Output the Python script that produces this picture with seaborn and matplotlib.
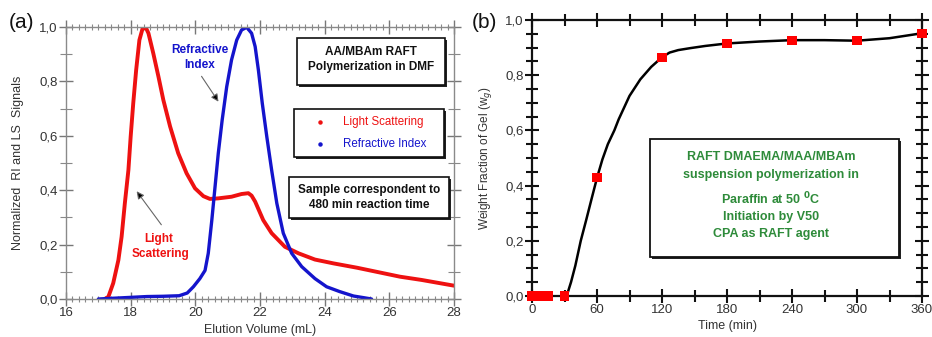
import matplotlib
matplotlib.use("Agg")
import matplotlib.pyplot as plt
import seaborn as sns
import pandas as pd
from matplotlib.ticker import MultipleLocator, FuncFormatter
from matplotlib.patches import Rectangle

# ---------------- data ----------------
ls_volume = [17.20, 17.31, 17.46, 17.62, 17.72, 17.82, 17.93, 18.00, 18.08, 18.17, 18.27, 18.37,
             18.42, 18.48, 18.55, 18.70, 18.86, 19.01, 19.22, 19.47, 19.73, 19.99, 20.25, 20.45,
             20.71, 21.12, 21.43, 21.64, 21.74, 21.85, 22.10, 22.36, 22.77, 23.19, 23.70, 24.27,
             25.00, 26.33, 27.00, 28.00]
ls_signal = [0.0, 0.008, 0.058, 0.143, 0.229, 0.352, 0.474, 0.597, 0.72, 0.842, 0.952, 0.995,
             1.0, 0.995, 0.977, 0.903, 0.817, 0.732, 0.634, 0.536, 0.462, 0.407, 0.378, 0.368,
             0.370, 0.376, 0.386, 0.389, 0.380, 0.358, 0.29, 0.242, 0.192, 0.168, 0.145, 0.131,
             0.115, 0.082, 0.07, 0.049]

ri_volume = [17.0, 17.5, 18.0, 18.5, 19.0, 19.5, 19.75, 19.94, 20.14, 20.30, 20.40, 20.51, 20.61,
             20.71, 20.83, 20.97, 21.12, 21.28, 21.43, 21.59, 21.74, 21.85, 21.95, 22.07, 22.21,
             22.36, 22.52, 22.72, 22.98, 23.29, 23.70, 24.06, 24.47, 24.89, 25.20, 25.45]
ri_signal = [0.0, 0.003, 0.006, 0.009, 0.010, 0.012, 0.022, 0.045, 0.075, 0.105, 0.168, 0.29, 0.413,
             0.536, 0.658, 0.78, 0.879, 0.952, 0.989, 0.999, 0.977, 0.928, 0.842, 0.72, 0.597,
             0.474, 0.352, 0.242, 0.168, 0.119, 0.075, 0.045, 0.027, 0.011, 0.005, 0.0]

gel_time = [0, 5, 10, 15, 30, 60, 120, 180, 240, 300, 360]
gel_frac = [0, 0, 0, 0, 0, 0.428, 0.865, 0.915, 0.927, 0.925, 0.952]

fit_time = [32, 36, 40, 45, 50, 55, 60, 65, 70, 76, 80, 90, 100, 110, 120, 127, 135, 146, 160,
            180, 210, 240, 270, 300, 330, 360]
fit_frac = [0.0, 0.05, 0.11, 0.20, 0.275, 0.352, 0.428, 0.495, 0.55, 0.60, 0.64, 0.725, 0.785,
            0.83, 0.865, 0.882, 0.891, 0.898, 0.906, 0.915, 0.922, 0.927, 0.927, 0.925, 0.934,
            0.952]

RED = "#ee1111"
BLUE = "#1414cc"
GREEN = "#2e8b3a"
W, H = 932, 337

sns.set_style("white")
plt.rcParams["font.family"] = ["Liberation Sans", "DejaVu Sans"]

fig = plt.figure(figsize=(W / 100, H / 100), dpi=100)


def fx(x):
    return x / W


def fy(y):
    return 1 - y / H


def axes_from_px(x0, y0, x1, y1):
    return fig.add_axes([fx(x0), fy(y1), fx(x1) - fx(x0), fy(y0) - fy(y1)])


comma = FuncFormatter(lambda v, p: f"{v:.1f}".replace(".", ","))

# ---------------- panel (a) ----------------
ax1 = axes_from_px(66, 27, 454, 299)
df_ls = pd.DataFrame({"v": ls_volume, "s": ls_signal})
df_ri = pd.DataFrame({"v": ri_volume, "s": ri_signal})
sns.lineplot(data=df_ls, x="v", y="s", ax=ax1, color=RED, lw=2.8, sort=False)
sns.lineplot(data=df_ri, x="v", y="s", ax=ax1, color=BLUE, lw=2.4, sort=False)
ax1.set_xlim(16, 28)
ax1.set_ylim(0, 1.0)
ax1.xaxis.set_major_locator(MultipleLocator(2))
ax1.xaxis.set_minor_locator(MultipleLocator(0.2))
ax1.yaxis.set_major_locator(MultipleLocator(0.2))
ax1.yaxis.set_minor_locator(MultipleLocator(0.1))
ax1.yaxis.set_major_formatter(comma)
ax1.xaxis.set_major_formatter(FuncFormatter(lambda v, p: f"{v:.0f}"))
for s in ax1.spines.values():
    s.set_color("#8a8a8a")
    s.set_linewidth(1.0)
ax1.tick_params(which="major", direction="inout", length=10, width=1.0, color="#777777",
                top=True, right=True, bottom=True, left=True,
                labelsize=9.5, labelcolor="#333333", pad=1)
ax1.tick_params(which="minor", direction="inout", length=5, width=0.8, color="#888888",
                top=True, right=True, bottom=True, left=True)
ax1.tick_params(axis="y", which="minor", length=8)
ax1.set_xlabel("Elution Volume (mL)", fontsize=9, color="#333333", labelpad=3)
ax1.set_ylabel("Normalized  RI and LS  Signals", fontsize=9, color="#333333", labelpad=11)


def shadow_box(x0, y0, x1, y1, lw=1.2, off=2.2):
    fig.patches.append(Rectangle((fx(x0 + off), fy(y1 + off)), fx(x1) - fx(x0), fy(y0) - fy(y1),
                                 transform=fig.transFigure, facecolor="#222222", edgecolor="none",
                                 zorder=5))
    fig.patches.append(Rectangle((fx(x0), fy(y1)), fx(x1) - fx(x0), fy(y0) - fy(y1),
                                 transform=fig.transFigure, facecolor="white", edgecolor="#111111",
                                 lw=lw, zorder=6))


def ftext(x, y, s, **kw):
    kw.setdefault("ha", "center")
    kw.setdefault("va", "center")
    fig.text(fx(x), fy(y), s, zorder=10, **kw)


shadow_box(297, 38, 445, 85)
ftext(371, 52, "AA/MBAm RAFT", fontsize=8.5, fontweight="bold", color="#111111")
ftext(371, 67, "Polymerization in DMF", fontsize=8.5, fontweight="bold", color="#111111")

shadow_box(294, 109, 444, 157)
fig.lines.append(plt.Line2D([fx(320)], [fy(122)], transform=fig.transFigure, marker="o",
                            ms=2.2, color=RED, ls="none", zorder=10))
fig.lines.append(plt.Line2D([fx(320)], [fy(144)], transform=fig.transFigure, marker="o",
                            ms=2.2, color=BLUE, ls="none", zorder=10))
ftext(343, 122, "Light Scattering", fontsize=8.3, color=RED, ha="left")
ftext(343, 144, "Refractive Index", fontsize=8.3, color=BLUE, ha="left")

shadow_box(289, 177, 449, 218)
ftext(369, 189.5, "Sample correspondent to", fontsize=8.5, fontweight="bold", color="#111111")
ftext(369, 204.5, "480 min reaction time", fontsize=8.5, fontweight="bold", color="#111111")

ftext(200, 50, "Refractive", fontsize=8.5, fontweight="bold", color=BLUE)
ftext(200, 64.5, "Index", fontsize=8.5, fontweight="bold", color=BLUE)
ftext(159, 239, "Light", fontsize=8.5, fontweight="bold", color=RED)
ftext(161, 253.5, "Scattering", fontsize=8.5, fontweight="bold", color=RED)

arrow_kw = dict(arrowstyle="-|>", color="#666666", lw=0.8, mutation_scale=11)
ax1.annotate("", xy=(fx(220), fy(104)), xytext=(fx(200), fy(74)), xycoords="figure fraction",
             textcoords="figure fraction", arrowprops=dict(**arrow_kw, fc="black"))
ax1.annotate("", xy=(fx(135), fy(189)), xytext=(fx(163), fy(227)), xycoords="figure fraction",
             textcoords="figure fraction", arrowprops=dict(**arrow_kw, fc="black"))

ftext(22, 22, "(a)", fontsize=15, color="#111111")

# ---------------- panel (b) ----------------
ax2 = axes_from_px(532, 20, 922, 296)
df_fit = pd.DataFrame({"t": fit_time, "w": fit_frac})
df_gel = pd.DataFrame({"t": gel_time, "w": gel_frac})
sns.lineplot(data=df_fit, x="t", y="w", ax=ax2, color="black", lw=1.8, sort=False)
sns.scatterplot(data=df_gel, x="t", y="w", ax=ax2, color="#ff0000", marker="s", s=42,
                edgecolor="none", clip_on=False, zorder=5)
ax2.set_xlim(0, 360)
ax2.set_ylim(0, 1.0)
ax2.xaxis.set_major_locator(MultipleLocator(60))
ax2.xaxis.set_minor_locator(MultipleLocator(30))
ax2.yaxis.set_major_locator(MultipleLocator(0.2))
ax2.yaxis.set_minor_locator(MultipleLocator(0.05))
ax2.yaxis.set_major_formatter(comma)
for s in ax2.spines.values():
    s.set_color("#111111")
    s.set_linewidth(1.6)
ax2.tick_params(which="major", direction="inout", length=10, width=1.5, color="#111111",
                top=True, right=True, bottom=True, left=True,
                labelsize=9.5, labelcolor="#333333", pad=1)
ax2.tick_params(which="minor", direction="inout", length=8, width=1.5, color="#111111",
                top=True, right=True, bottom=True, left=True)
ax2.set_xlabel("Time (min)", fontsize=9, color="#333333", labelpad=3)
ax2.set_ylabel("Weight Fraction of Gel (w$_g$)", fontsize=8.5, color="#333333", labelpad=8)

shadow_box(650, 139, 899, 257, lw=1.3)
ftext(771, 157, "RAFT DMAEMA/MAA/MBAm", fontsize=9, fontweight="bold", color=GREEN)
ftext(771, 175, "suspension polymerization in", fontsize=9, fontweight="bold", color=GREEN)
ftext(771, 199, "Paraffin at 50 $^{\\mathbf{0}}$C", fontsize=9, fontweight="bold", color=GREEN)
ftext(771, 217, "Initiation by V50", fontsize=9, fontweight="bold", color=GREEN)
ftext(771, 234, "CPA as RAFT agent", fontsize=9, fontweight="bold", color=GREEN)

ftext(484, 22, "(b)", fontsize=15, color="#111111")

fig.savefig("out.png", dpi=100)
